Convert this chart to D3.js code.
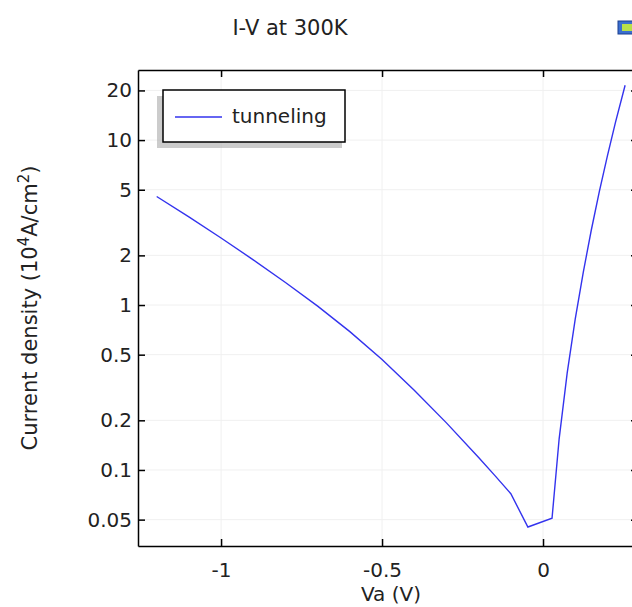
<!DOCTYPE html>
<html>
<head>
<meta charset="utf-8">
<script src="https://cdn.jsdelivr.net/npm/d3@7"></script>
<style>
  body { margin: 0; background: #fff; }
  text { font-family: "DejaVu Sans", sans-serif; fill: #222; }
</style>
</head>
<body>
<svg width="632" height="607"></svg>
<script>
// данные кривой (Va, J в 10^4 A/cm^2)
const voltage = [-1.2, -1.1, -1.0, -0.9, -0.8, -0.7, -0.6, -0.5, -0.4, -0.3, -0.2, -0.15, -0.1, -0.047,
                 0.028, 0.05, 0.075, 0.1, 0.125, 0.15, 0.175, 0.2, 0.225, 0.255];
const current = [4.55, 3.42, 2.55, 1.88, 1.37, 0.985, 0.69, 0.467, 0.304, 0.193, 0.119, 0.0927, 0.0718, 0.0451,
                 0.051, 0.154, 0.386, 0.821, 1.58, 2.85, 4.88, 8.03, 12.8, 21.5];
const xTicks = [-1, -0.5, 0];
const yTicks = [0.05, 0.1, 0.2, 0.5, 1, 2, 5, 10, 20];
const seriesName = "tunneling";

const svg = d3.select("svg");
const mLeft = 138, mRight = 638, mTop = 70, mBottom = 546;

const x = d3.scaleLinear().domain([-1.258, 0.295]).range([mLeft, mRight]);
const y = d3.scaleLog().domain([0.0346, 26.6]).range([mBottom, mTop]);

// сетка
const grid = svg.append("g").attr("stroke", "#f0f0f0").attr("stroke-width", 1);
grid.selectAll(".gy").data(yTicks).join("line")
    .attr("x1", mLeft).attr("x2", mRight)
    .attr("y1", d => y(d)).attr("y2", d => y(d));
grid.selectAll(".gx").data(xTicks).join("line")
    .attr("y1", mTop).attr("y2", mBottom)
    .attr("x1", d => x(d)).attr("x2", d => x(d));

// оси
const fmt = d => d === 0 ? "0" : String(d);
const axisStyle = g => {
    g.select(".domain").attr("stroke", "#000").attr("stroke-width", 1.5);
    g.selectAll(".tick line").attr("stroke", "#000").attr("stroke-width", 1.5);
    g.selectAll(".tick text").style("font-size", "20px").attr("fill", "#222");
};

svg.append("g").attr("transform", `translate(0,${mBottom})`)
    .call(d3.axisBottom(x).tickValues(xTicks).tickFormat(fmt).tickSizeInner(-7).tickSizeOuter(0).tickPadding(17))
    .call(axisStyle);
svg.append("g").attr("transform", `translate(0,${mTop})`)
    .call(d3.axisTop(x).tickValues(xTicks).tickFormat("").tickSizeInner(-7).tickSizeOuter(0))
    .call(axisStyle);
svg.append("g").attr("transform", `translate(${mLeft},0)`)
    .call(d3.axisLeft(y).tickValues(yTicks).tickFormat(fmt).tickSizeInner(-7).tickSizeOuter(0).tickPadding(6))
    .call(axisStyle);
svg.append("g").attr("transform", `translate(${mRight},0)`)
    .call(d3.axisRight(y).tickValues(yTicks).tickFormat("").tickSizeInner(-7).tickSizeOuter(0))
    .call(axisStyle);

// кривая
const data = voltage.map((v, i) => ({ v: v, j: current[i] }));
const line = d3.line().x(d => x(d.v)).y(d => y(d.j));
svg.append("path")
    .attr("d", line(data))
    .attr("fill", "none")
    .attr("stroke", "#3333ee")
    .attr("stroke-width", 1.4);

// заголовок и подписи осей
svg.append("text").attr("x", 290).attr("y", 35).attr("text-anchor", "middle")
    .style("font-size", "21px").text("I-V at 300K");

svg.append("text").attr("x", 391).attr("y", 601).attr("text-anchor", "middle")
    .style("font-size", "20px").text("Va (V)");

const yl = svg.append("text")
    .attr("transform", `translate(37,308) rotate(-90)`)
    .attr("text-anchor", "middle")
    .style("font-size", "21px");
yl.append("tspan").text("Current density (10");
yl.append("tspan").attr("dy", -8).style("font-size", "15px").text("4");
yl.append("tspan").attr("dy", 8).text("A/cm");
yl.append("tspan").attr("dy", -8).style("font-size", "15px").text("2");
yl.append("tspan").attr("dy", 8).text(")");

// легенда
const lg = svg.append("g");
lg.append("rect").attr("x", 157).attr("y", 96).attr("width", 185).attr("height", 52)
    .attr("fill", "#aaa").attr("opacity", 0.6);
lg.append("rect").attr("x", 163).attr("y", 90).attr("width", 182).attr("height", 52)
    .attr("fill", "#fff").attr("stroke", "#000").attr("stroke-width", 1.5);
lg.append("line").attr("x1", 175).attr("x2", 222).attr("y1", 117).attr("y2", 117)
    .attr("stroke", "#3333ee").attr("stroke-width", 1.4);
lg.append("text").attr("x", 232).attr("y", 123).style("font-size", "20px").text(seriesName);

// значок в правом верхнем углу
svg.append("rect").attr("x", 618).attr("y", 21).attr("width", 15).attr("height", 13)
    .attr("fill", "#3a6fd0").attr("stroke", "#1b3f8f");
svg.append("rect").attr("x", 622).attr("y", 24).attr("width", 10).attr("height", 7)
    .attr("fill", "#b8e04a");
</script>
</body>
</html>
